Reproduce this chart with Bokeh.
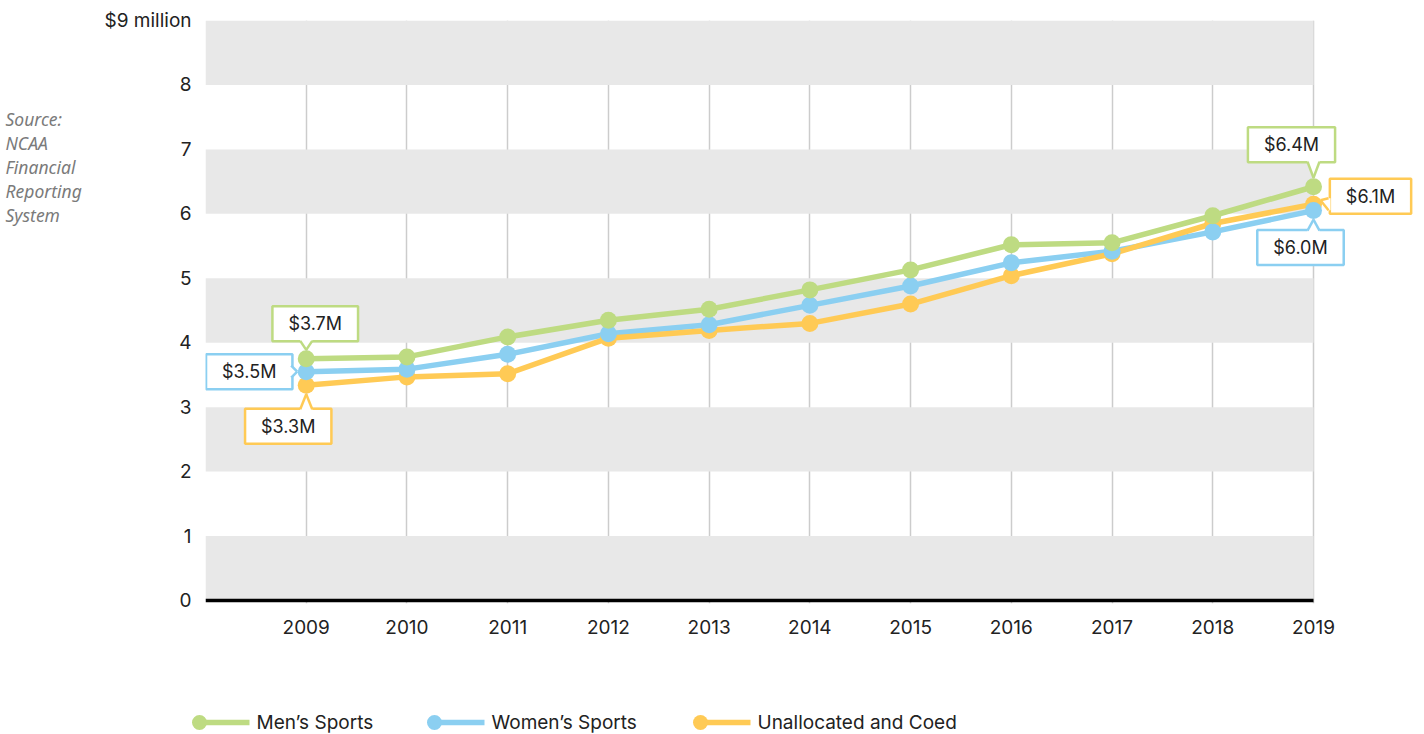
from bokeh.plotting import figure
from bokeh.models import Range1d, FixedTicker, Label
from bokeh.layouts import column, row
from bokeh.embed import file_html
from bokeh.resources import INLINE
from bokeh.core.properties import value

# ---------------- data ----------------
years = [2009, 2010, 2011, 2012, 2013, 2014, 2015, 2016, 2017, 2018, 2019]
mens = [3.75, 3.78, 4.09, 4.35, 4.52, 4.82, 5.13, 5.52, 5.55, 5.97, 6.42]
womens = [3.55, 3.59, 3.82, 4.14, 4.28, 4.58, 4.88, 5.24, 5.42, 5.72, 6.05]
unalloc = [3.34, 3.47, 3.52, 4.07, 4.19, 4.30, 4.60, 5.04, 5.38, 5.85, 6.15]
series_names = ["Men\u2019s Sports", "Women\u2019s Sports", "Unallocated and Coed"]
y_ticks = [0, 1, 2, 3, 4, 5, 6, 7, 8, 9]
y_tick_labels = ["0", "1", "2", "3", "4", "5", "6", "7", "8", "$9 million"]
band_bottoms = [0, 2, 4, 6, 8]
source_lines = ["Source:", "NCAA", "Financial", "Reporting", "System"]

# callouts: (series index, year index, text, box dx, box dy (px, down), tail side)
callouts = [
    (0, 0, "$3.7M", 9, -35, "bottom"),
    (1, 0, "$3.5M", -57, 0, "right"),
    (2, 0, "$3.3M", -18, 41, "top"),
    (0, 10, "$6.4M", -22, -42, "bottom"),
    (2, 10, "$6.1M", 57, -8, "left"),
    (1, 10, "$6.0M", -13, 37, "top"),
]

GREEN = "#bedb82"
BLUE = "#8bcff1"
YELLOW = "#ffca55"
colors = [GREEN, BLUE, YELLOW]
series = [mens, womens, unalloc]
FONT = "Inter"
TXT = "#222222"

# ---------------- geometry ----------------
TOTAL_W = 1424
SRC_W = 100
FRAME_LEFT = 205          # absolute
FRAME_TOP = 20
PX_YEAR = 1108 / 11.0
FRAME_W = TOTAL_W - FRAME_LEFT
X0 = years[0] - 1
X1 = X0 + FRAME_W / PX_YEAR
PX_VAL = 580 / 9.0
Y0 = -3 / PX_VAL
FRAME_H = int(round((9 - Y0) * PX_VAL))
MAIN_H = 692
BOTTOM = MAIN_H - FRAME_TOP - FRAME_H

p = figure(width=TOTAL_W - SRC_W, height=MAIN_H, output_backend="svg", toolbar_location=None,
           x_range=Range1d(X0, X1), y_range=Range1d(Y0, 9),
           min_border_left=FRAME_LEFT - SRC_W, min_border_right=0, min_border_top=FRAME_TOP,
           min_border_bottom=BOTTOM)
p.outline_line_color = None
p.background_fill_color = "white"
p.border_fill_color = "white"

# bands
p.quad(left=X0, right=years[-1], bottom=band_bottoms,
       top=[b + 1 for b in band_bottoms], fill_color="#e8e8e8", line_color=None)

# axes
p.xaxis.ticker = FixedTicker(ticks=years)
p.xaxis.major_label_overrides = {y: str(y) for y in years}
p.xaxis.axis_line_color = None
p.xaxis.major_tick_line_color = None
p.xaxis.minor_tick_line_color = None
p.xaxis.major_label_standoff = 10
p.xaxis.major_label_text_font = FONT
p.xaxis.major_label_text_font_size = "19px"
p.xaxis.major_label_text_color = TXT

p.yaxis.ticker = FixedTicker(ticks=y_ticks)
p.yaxis.major_label_overrides = {t: l for t, l in zip(y_ticks, y_tick_labels)}
p.yaxis.axis_line_color = None
p.yaxis.major_tick_line_color = None
p.yaxis.minor_tick_line_color = None
p.yaxis.major_label_standoff = 8
p.yaxis.major_label_text_font = FONT
p.yaxis.major_label_text_font_size = "19px"
p.yaxis.major_label_text_color = TXT

p.xgrid.grid_line_color = "#cccccc"
p.xgrid.grid_line_width = 1.5
p.xgrid.ticker = FixedTicker(ticks=years)
p.ygrid.grid_line_color = None

# baseline
p.segment(x0=[X0], y0=[0], x1=[years[-1]], y1=[0], line_color="black", line_width=3.5)

# lines
for vals, c in zip(series, colors):
    p.line(years, vals, line_color=c, line_width=5.5)
# points
for idx in [2, 1, 0]:
    p.scatter(years, series[idx], size=17, fill_color=colors[idx], line_color=None)

# callouts
BW, BH = 84, 34
for si, yi, txt, dx, dy, side in callouts:
    yr = years[yi]
    v = series[si][yi]
    col = colors[si]
    cx = yr + dx / PX_YEAR
    cy = v - dy / PX_VAL
    p.add_layout(Label(x=cx, y=cy, text=txt, text_align="center", text_baseline="middle",
                       text_font=FONT, text_font_size="18px", text_color=TXT,
                       background_fill_color="white", border_line_color=col,
                       border_line_width=2.5, padding=(16, 7)))
    hw = 6
    if side == "bottom":
        by = dy + BH / 2
        base = [(-hw, by), (hw, by)]
        inner = [(-hw, by - 2), (hw, by - 2)]
        tip = (0, -9)
    elif side == "top":
        by = dy - BH / 2
        base = [(-hw, by), (hw, by)]
        inner = [(-hw, by + 2), (hw, by + 2)]
        tip = (0, 9)
    elif side == "right":
        bx = dx + BW / 2
        base = [(bx, -hw), (bx, hw)]
        inner = [(bx - 2, -hw), (bx - 2, hw)]
        tip = (-9, 0)
    else:
        bx = dx - BW / 2
        base = [(bx, -hw), (bx, hw)]
        inner = [(bx + 2, -hw), (bx + 2, hw)]
        tip = (7, -4)
    tx = lambda q: yr + q[0] / PX_YEAR
    ty = lambda q: v - q[1] / PX_VAL
    pts = [inner[0], base[0], tip, base[1], inner[1]]
    r = p.patch([tx(q) for q in pts], [ty(q) for q in pts], fill_color="white", line_color=None)
    r.level = "overlay"
    r2 = p.multi_line([[tx(base[0]), tx(tip)], [tx(base[1]), tx(tip)]],
                      [[ty(base[0]), ty(tip)], [ty(base[1]), ty(tip)]],
                      line_color=col, line_width=2.5)
    r2.level = "overlay"

# ---------------- source text figure (left) ----------------
src = figure(width=SRC_W, height=MAIN_H, output_backend="svg", toolbar_location=None,
             x_range=Range1d(0, SRC_W), y_range=Range1d(FRAME_TOP + FRAME_H, FRAME_TOP),
             min_border_left=0, min_border_right=0, min_border_top=FRAME_TOP,
             min_border_bottom=BOTTOM)
src.axis.visible = False
src.grid.visible = False
src.outline_line_color = None
src_y = [118 + 24 * i for i in range(len(source_lines))]
src.text([5] * len(source_lines), src_y, text=source_lines, text_font=value("Noto Sans"),
         text_font_style="italic", text_font_size="17.5px", text_color="#7a7a7a",
         text_baseline="middle", text_align="left")

# ---------------- legend figure ----------------
LEG_H = 734 - MAIN_H
leg = figure(width=TOTAL_W, height=LEG_H, output_backend="svg", toolbar_location=None,
             x_range=Range1d(0, TOTAL_W), y_range=Range1d(LEG_H, 0),
             min_border_left=0, min_border_right=0, min_border_top=0,
             min_border_bottom=0)
leg.frame_align = False
leg.axis.visible = False
leg.grid.visible = False
leg.outline_line_color = None
legend_x = [199, 434, 700]
ly = 722 - MAIN_H
for lx, c, name in zip(legend_x, colors, series_names):
    leg.segment(x0=[lx], y0=[ly], x1=[lx + 50], y1=[ly], line_color=c, line_width=5.5)
    leg.scatter([lx], [ly], size=15, fill_color=c, line_color=None)
    leg.text([lx + 57], [ly], text=[name], text_font=value(FONT), text_font_size="19px",
             text_color=TXT, text_baseline="middle", text_align="left")

layout = column(row(src, p, spacing=0), leg, spacing=0)
open("out.html", "w").write(file_html(layout, INLINE))
